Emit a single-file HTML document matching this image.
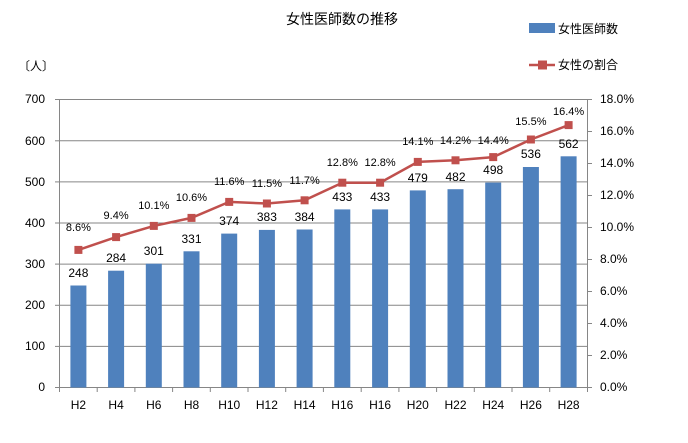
<!DOCTYPE html>
<html><head><meta charset="utf-8"><style>
body{margin:0;background:#fff}
svg text{font-family:"Liberation Sans","Noto Sans CJK JP",sans-serif;font-size:12px;fill:#000}
</style></head><body>
<svg width="688" height="438" xmlns="http://www.w3.org/2000/svg">
<rect width="688" height="438" fill="#fff"/>
<text x="342" y="24" text-anchor="middle" style="font-size:14px">女性医師数の推移</text>
<rect x="529" y="23" width="26" height="10" fill="#4f81bd"/>
<text x="558" y="33" style="font-size:12px">女性医師数</text>
<line x1="529" y1="65" x2="555" y2="65" stroke="#c0504d" stroke-width="2.5"/>
<rect x="538" y="60.5" width="9" height="9" fill="#c0504d"/>
<text x="558" y="69" style="font-size:12px">女性の割合</text>
<text x="18" y="70" style="font-size:12px">〔人〕</text>
<g stroke="#868686" stroke-width="1">
<line x1="59.5" y1="346.4" x2="587.5" y2="346.4"/><line x1="59.5" y1="305.3" x2="587.5" y2="305.3"/>
<line x1="59.5" y1="264.1" x2="587.5" y2="264.1"/><line x1="59.5" y1="223" x2="587.5" y2="223"/>
<line x1="59.5" y1="181.9" x2="587.5" y2="181.9"/><line x1="59.5" y1="140.8" x2="587.5" y2="140.8"/>
<line x1="59.5" y1="99.5" x2="587.5" y2="99.5"/>
<line x1="59.5" y1="99.5" x2="59.5" y2="387.5"/><line x1="587.5" y1="99.5" x2="587.5" y2="387.5"/>
<line x1="55" y1="387.5" x2="592" y2="387.5"/>
<line x1="55" y1="346.4" x2="59.5" y2="346.4"/><line x1="55" y1="305.3" x2="59.5" y2="305.3"/><line x1="55" y1="264.1" x2="59.5" y2="264.1"/><line x1="55" y1="223" x2="59.5" y2="223"/><line x1="55" y1="181.9" x2="59.5" y2="181.9"/><line x1="55" y1="140.8" x2="59.5" y2="140.8"/><line x1="55" y1="99.5" x2="59.5" y2="99.5"/>
<line x1="587.5" y1="355.5" x2="592" y2="355.5"/><line x1="587.5" y1="323.5" x2="592" y2="323.5"/><line x1="587.5" y1="291.5" x2="592" y2="291.5"/><line x1="587.5" y1="259.5" x2="592" y2="259.5"/><line x1="587.5" y1="227.5" x2="592" y2="227.5"/><line x1="587.5" y1="195.5" x2="592" y2="195.5"/><line x1="587.5" y1="163.5" x2="592" y2="163.5"/><line x1="587.5" y1="131.5" x2="592" y2="131.5"/><line x1="587.5" y1="99.5" x2="592" y2="99.5"/>
<line x1="59.5" y1="387.5" x2="59.5" y2="392"/><line x1="97.2" y1="387.5" x2="97.2" y2="392"/><line x1="134.9" y1="387.5" x2="134.9" y2="392"/><line x1="172.6" y1="387.5" x2="172.6" y2="392"/><line x1="210.3" y1="387.5" x2="210.3" y2="392"/><line x1="248" y1="387.5" x2="248" y2="392"/><line x1="285.7" y1="387.5" x2="285.7" y2="392"/><line x1="323.4" y1="387.5" x2="323.4" y2="392"/><line x1="361.2" y1="387.5" x2="361.2" y2="392"/><line x1="398.9" y1="387.5" x2="398.9" y2="392"/><line x1="436.6" y1="387.5" x2="436.6" y2="392"/><line x1="474.3" y1="387.5" x2="474.3" y2="392"/><line x1="512" y1="387.5" x2="512" y2="392"/><line x1="549.7" y1="387.5" x2="549.7" y2="392"/><line x1="587.5" y1="387.5" x2="587.5" y2="392"/>
</g>
<g text-anchor="end">
<text x="45" y="391">0</text><text x="45" y="350">100</text><text x="45" y="309">200</text><text x="45" y="268">300</text><text x="45" y="227">400</text><text x="45" y="186">500</text><text x="45" y="145">600</text><text x="45" y="103">700</text>
</g>
<g>
<text x="600" y="391">0.0%</text><text x="600" y="359">2.0%</text><text x="600" y="327">4.0%</text><text x="600" y="295">6.0%</text><text x="600" y="263">8.0%</text><text x="600" y="231">10.0%</text><text x="600" y="199">12.0%</text><text x="600" y="167">14.0%</text><text x="600" y="135">16.0%</text><text x="600" y="103">18.0%</text>
</g>
<g fill="#4f81bd">
<rect x="70.4" y="285.5" width="16" height="102"/><rect x="108.1" y="270.7" width="16" height="116.8"/><rect x="145.8" y="263.7" width="16" height="123.8"/><rect x="183.5" y="251.3" width="16" height="136.2"/><rect x="221.2" y="233.6" width="16" height="153.9"/><rect x="258.9" y="229.9" width="16" height="157.6"/><rect x="296.6" y="229.5" width="16" height="158"/><rect x="334.3" y="209.4" width="16" height="178.1"/><rect x="372.1" y="209.4" width="16" height="178.1"/><rect x="409.8" y="190.4" width="16" height="197.1"/><rect x="447.5" y="189.2" width="16" height="198.3"/><rect x="485.2" y="182.6" width="16" height="204.9"/><rect x="522.9" y="167" width="16" height="220.5"/><rect x="560.6" y="156.3" width="16" height="231.2"/>
</g>
<g text-anchor="middle">
<text x="78.4" y="277">248</text><text x="116.1" y="262">284</text><text x="153.8" y="255">301</text><text x="191.5" y="243">331</text><text x="229.2" y="225">374</text><text x="266.9" y="221">383</text><text x="304.6" y="221">384</text><text x="342.3" y="201">433</text><text x="380.1" y="201">433</text><text x="417.8" y="182">479</text><text x="455.5" y="181">482</text><text x="493.2" y="174">498</text><text x="530.9" y="158">536</text><text x="568.6" y="148">562</text>
</g>
<polyline fill="none" stroke="#c0504d" stroke-width="2.5" points="78.4,249.9 116.1,237.1 153.8,225.9 191.5,217.9 229.2,201.9 266.9,203.5 304.6,200.3 342.3,182.7 380.1,182.7 417.8,161.9 455.5,160.3 493.2,157.1 530.9,139.5 568.6,125.1"/>
<g fill="#c0504d">
<rect x="74.4" y="245.9" width="8" height="8"/><rect x="112.1" y="233.1" width="8" height="8"/><rect x="149.8" y="221.9" width="8" height="8"/><rect x="187.5" y="213.9" width="8" height="8"/><rect x="225.2" y="197.9" width="8" height="8"/><rect x="262.9" y="199.5" width="8" height="8"/><rect x="300.6" y="196.3" width="8" height="8"/><rect x="338.3" y="178.7" width="8" height="8"/><rect x="376.1" y="178.7" width="8" height="8"/><rect x="413.8" y="157.9" width="8" height="8"/><rect x="451.5" y="156.3" width="8" height="8"/><rect x="489.2" y="153.1" width="8" height="8"/><rect x="526.9" y="135.5" width="8" height="8"/><rect x="564.6" y="121.1" width="8" height="8"/>
</g>
<g text-anchor="middle">
<text x="78.4" y="231" style="font-size:11px">8.6%</text><text x="116.1" y="219" style="font-size:11px">9.4%</text><text x="153.8" y="209" style="font-size:11px">10.1%</text><text x="191.5" y="201" style="font-size:11px">10.6%</text><text x="229.2" y="185" style="font-size:11px">11.6%</text><text x="266.9" y="187" style="font-size:11px">11.5%</text><text x="304.6" y="184" style="font-size:11px">11.7%</text><text x="342.3" y="166" style="font-size:11px">12.8%</text><text x="380.1" y="166" style="font-size:11px">12.8%</text><text x="417.8" y="145" style="font-size:11px">14.1%</text><text x="455.5" y="144" style="font-size:11px">14.2%</text><text x="493.2" y="144" style="font-size:11px">14.4%</text><text x="530.9" y="125" style="font-size:11px">15.5%</text><text x="568.6" y="115" style="font-size:11px">16.4%</text>
</g>
<g text-anchor="middle">
<text x="78.4" y="409">H2</text><text x="116.1" y="409">H4</text><text x="153.8" y="409">H6</text><text x="191.5" y="409">H8</text><text x="229.2" y="409">H10</text><text x="266.9" y="409">H12</text><text x="304.6" y="409">H14</text><text x="342.3" y="409">H16</text><text x="380.1" y="409">H16</text><text x="417.8" y="409">H20</text><text x="455.5" y="409">H22</text><text x="493.2" y="409">H24</text><text x="530.9" y="409">H26</text><text x="568.6" y="409">H28</text>
</g>
</svg>
</body></html>
